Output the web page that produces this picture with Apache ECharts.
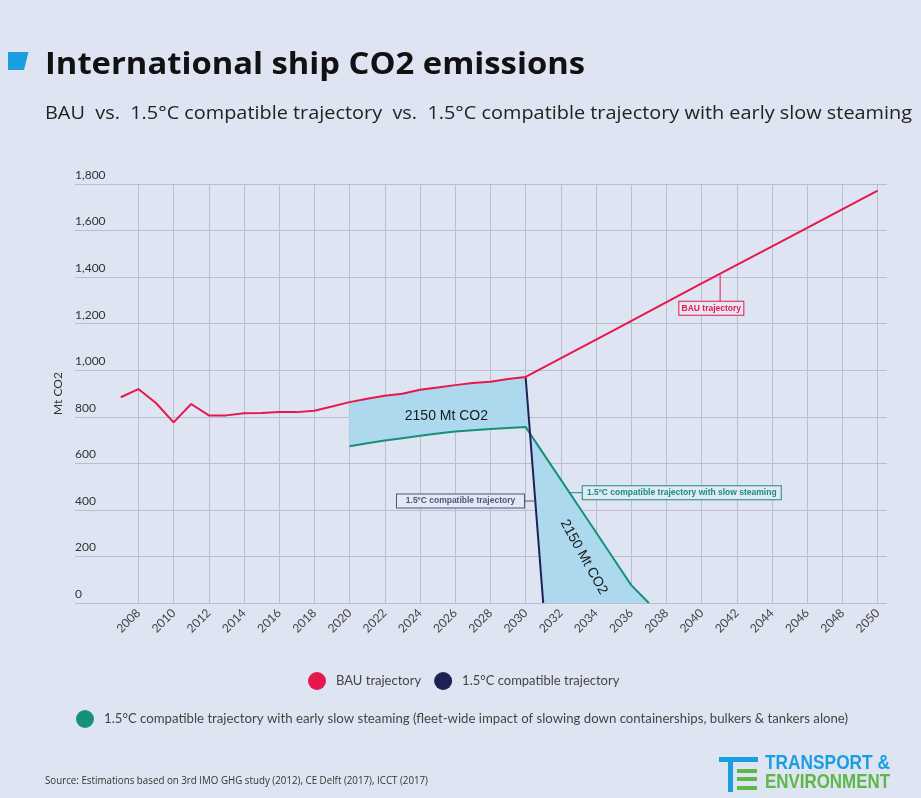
<!DOCTYPE html>
<html>
<head>
<meta charset="utf-8">
<script src="https://cdn.jsdelivr.net/npm/echarts@6/dist/echarts.min.js"></script>
<style>
html,body{margin:0;padding:0;background:#dfe4f2;}
#chart{width:921px;height:798px;}
</style>
</head>
<body>
<div id="chart"></div>
<script>
// ---- data ----
var bauYears = [2007,2008,2009,2010,2011,2012,2013,2014,2015,2016,2017,2018,2019,2020,2021,2022,2023,2024,2025,2026,2027,2028,2029,2030,2035,2040,2045,2050];
var bauValues = [884,919,859,776,855,806,806,815,816,820,820,826,844,863,877,890,899,916,926,936,945,950,962,971,1171,1373,1572,1772];
var compatYears = [2030,2031];
var compatValues = [971,0];
var slowYears = [2020,2021,2022,2023,2024,2025,2026,2027,2028,2029,2030,2031,2032,2033,2034,2035,2036,2037];
var slowValues = [673,686,698,708,718,728,737,742,747,752,756,643,530,417,304,190,77,0];
var xTickYears = [2008,2010,2012,2014,2016,2018,2020,2022,2024,2026,2028,2030,2032,2034,2036,2038,2040,2042,2044,2046,2048,2050];
var seriesNames = ['BAU trajectory','1.5°C compatible trajectory','1.5°C compatible trajectory with early slow steaming (fleet-wide impact of slowing down containerships, bulkers & tankers alone)'];
var areaLabelText = ['2150 Mt CO2','2150 Mt CO2'];
var areaLabelPos = [[2025.5,801],[2033.3,197]];
var calloutText = ['BAU trajectory','1.5ºC compatible trajectory','1.5ºC compatible trajectory with slow steaming'];
var calloutPos = [[2040.55,1266],[2026.3,438],[2038.87,474]];
var leaderLines = [[[2041.05,1410],[2041.05,1291]],[[2029.9,438],[2030.56,438]],[[2032.5,474],[2033.24,474]]];

// ---- colours & styles ----
var cBau = '#e8174b', cNavy = '#1e2156', cGreen = '#15917a', cFill = '#acd9ee', cGrid = '#b9becf';
var calloutColors = [cBau, '#50557a', cGreen];
var calloutWidths = [56, 119, 190];
var FONT = 'Lato';

function pairs(xs, ys){ return xs.map(function(x,i){ return [x, ys[i]]; }); }
var bauData = pairs(bauYears, bauValues);
var compatData = pairs(compatYears, compatValues);
var slowData = pairs(slowYears, slowValues);
var bauSeg = bauData.filter(function(p){ return p[0] >= 2020 && p[0] <= 2030; });
var polygonData = bauSeg.concat(compatData.slice(1)).concat(slowData.slice().reverse());

var measureCtx = document.createElement('canvas').getContext('2d');
function fitScale(text, font, targetW){ measureCtx.font = font; return targetW / measureCtx.measureText(text).width; }

var chart = echarts.init(document.getElementById('chart'), null, {renderer:'canvas'});

var option = {
  backgroundColor: '#dfe4f2',
  animation: false,
  grid: {left: 75, right: 34, top: 184, bottom: 195, containLabel: false},
  xAxis: {
    type: 'value', min: 2004.4, max: 2050.53,
    axisLine: {show: false},
    axisTick: {show: false, customValues: xTickYears},
    splitLine: {show: true, lineStyle: {color: cGrid, width: 1}},
    axisLabel: {customValues: xTickYears, rotate: 45, margin: 8, color: '#444', fontSize: 12, fontFamily: FONT, formatter: function(v){ return String(v); }}
  },
  yAxis: {
    type: 'value', min: 0, max: 1800, interval: 200,
    name: 'Mt CO2', nameLocation: 'middle', nameGap: 10, nameRotate: 90,
    nameTextStyle: {color: '#333', fontSize: 12, fontFamily: FONT},
    axisLine: {show: false}, axisTick: {show: false},
    splitLine: {show: true, lineStyle: {color: cGrid, width: 1}},
    axisLabel: {inside: true, margin: 0, verticalAlign: 'bottom', padding: [0,0,3,0], color: '#333', fontSize: 12, fontFamily: FONT,
      formatter: function(v){ return Number(v).toLocaleString('en-US'); }}
  },
  legend: [{
    data: [seriesNames[0], seriesNames[1]], left: 303, top: 667, orient: 'horizontal',
    icon: 'circle', itemWidth: 28, itemHeight: 18, itemGap: 13,
    textStyle: {color: '#444', fontSize: 13, fontFamily: FONT}
  },{
    data: [seriesNames[2]], left: 71, top: 705,
    icon: 'circle', itemWidth: 28, itemHeight: 18,
    textStyle: {color: '#444', fontSize: 13.2, fontFamily: FONT}
  }],
  series: [
    {
      type: 'custom', name: 'fill', silent: true, z: 1,
      data: [[2025, 500]],
      renderItem: function(params, api){
        var pts = polygonData.map(function(p){ return api.coord(p); });
        return {type: 'polygon', shape: {points: pts}, style: {fill: cFill, stroke: null}};
      }
    },
    {name: seriesNames[2], type: 'line', data: slowData, symbol: 'none', z: 3,
      lineStyle: {color: cGreen, width: 2}, itemStyle: {color: cGreen}},
    {name: seriesNames[1], type: 'line', data: compatData, symbol: 'none', z: 4,
      lineStyle: {color: cNavy, width: 2}, itemStyle: {color: cNavy}},
    {name: seriesNames[0], type: 'line', data: bauData, symbol: 'none', z: 5,
      lineStyle: {color: cBau, width: 2}, itemStyle: {color: cBau}}
  ]
};
chart.setOption(option);

function px(p){ return chart.convertToPixel({gridIndex: 0}, p); }
function fittedText(text, font, fill, x, y, targetW){
  var s = fitScale(text, font, targetW);
  return {type:'text', x:x, y:y, scaleX:s, z:100,
    style:{text:text, fill:fill, font:font, align:'left', verticalAlign:'middle'}};
}
var g = [];
// title block
g.push({type:'polygon', shape:{points:[[8,52],[28.5,52],[24,70],[8,70]]}, style:{fill:'#1a9ee2'}, z:100});
var titleText = 'International ship CO2 emissions';
var subText = 'BAU  vs.  1.5°C compatible trajectory  vs.  1.5°C compatible trajectory with early slow steaming';
g.push(fittedText(titleText, 'bold 30px "Open Sans"', '#111', 45, 65, 540));
g.push(fittedText(subText, '19px "Open Sans"', '#222', 45, 114, 867));
// source
var srcText = 'Source: Estimations based on 3rd IMO GHG study (2012), CE Delft (2017), ICCT (2017)';
g.push(fittedText(srcText, '11px "Open Sans"', '#333', 45, 781, 383));
// logo
g.push({type:'rect', shape:{x:719, y:757, width:39, height:5}, style:{fill:'#1a9ee2'}, z:100});
g.push({type:'rect', shape:{x:728, y:762, width:5, height:30}, style:{fill:'#1a9ee2'}, z:100});
g.push({type:'rect', shape:{x:737, y:769, width:20, height:4}, style:{fill:'#5cb848'}, z:100});
g.push({type:'rect', shape:{x:737, y:777, width:20, height:4}, style:{fill:'#5cb848'}, z:100});
g.push({type:'rect', shape:{x:737, y:786, width:20, height:4}, style:{fill:'#5cb848'}, z:100});
g.push(fittedText('TRANSPORT &', 'bold 21px "Liberation Sans"', '#1a9ee2', 765, 763, 125));
g.push(fittedText('ENVIRONMENT', 'bold 21px "Liberation Sans"', '#5cb848', 765, 782, 125));
// area labels
areaLabelPos.forEach(function(p, i){
  var q = px(p);
  g.push({type:'text', x:q[0], y:q[1], rotation: i === 1 ? -61*Math.PI/180 : 0,
    style:{text: areaLabelText[i], fill:'#1a1a1a', font:'14px "Liberation Sans"', align:'center', verticalAlign:'middle'}, z:50});
});
// leader lines
leaderLines.forEach(function(l, i){
  var a = px(l[0]), b = px(l[1]);
  g.push({type:'line', shape:{x1:a[0], y1:a[1], x2:b[0], y2:b[1]}, style:{stroke: calloutColors[i], lineWidth: 1}, z:40});
});
// callout boxes
calloutPos.forEach(function(p, i){
  var q = px(p);
  g.push({type:'text', x:q[0], y:q[1],
    style:{text: calloutText[i], fill: calloutColors[i], font:'bold 8.5px "Liberation Sans"', align:'center', verticalAlign:'middle',
      width: calloutWidths[i], backgroundColor:'#e4e8f4', borderColor: calloutColors[i], borderWidth: 1, padding:[2,4,2,4]}, z:60});
});
chart.setOption({graphic: g});
</script>
</body>
</html>
